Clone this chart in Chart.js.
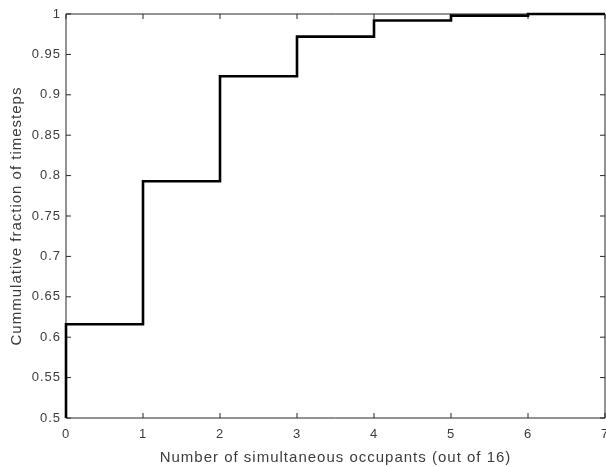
<!DOCTYPE html>
<html>
<head>
<meta charset="utf-8">
<script src="https://cdn.jsdelivr.net/npm/chart.js@4/dist/chart.umd.min.js"></script>
<style>
  html, body { margin: 0; padding: 0; background: #ffffff; }
  #wrap { width: 606px; height: 467px; }
</style>
</head>
<body>
<div id="wrap"><canvas id="cdf" width="606" height="467"></canvas></div>
<script>
// Empirical CDF of simultaneous occupancy (stairs: each value holds until the next x)
const occupants = [0, 0, 1, 2, 3, 4, 5, 6, 7];
const cumulativeFraction = [0, 0.616, 0.793, 0.923, 0.972, 0.992, 0.998, 1.0, 1.0];
const xTickValues = [0, 1, 2, 3, 4, 5, 6, 7];
const yTickValues = [0.5, 0.55, 0.6, 0.65, 0.7, 0.75, 0.8, 0.85, 0.9, 0.95, 1];

const xTitle = 'Number of simultaneous occupants (out of 16)';
const yTitle = 'Cummulative fraction of timesteps';

const axisColor = '#262626';
const labelColor = '#3c3c3c';
const fontFamily = '"Liberation Sans", Arial, Helvetica, sans-serif';

// Slightly wider text tracking for all labels
const textTracking = {
  id: 'textTracking',
  beforeUpdate(chart) { chart.ctx.letterSpacing = '1px'; },
  beforeLayout(chart) { chart.ctx.letterSpacing = '1px'; },
  beforeDraw(chart) { chart.ctx.letterSpacing = '1px'; }
};

// Box around the axes with inward tick marks on all four sides
const boxAxes = {
  id: 'boxAxes',
  beforeDatasetsDraw(chart) {
    const { ctx, chartArea: a, scales: { x, y } } = chart;
    const len = 5;
    ctx.save();
    ctx.strokeStyle = axisColor;
    ctx.lineWidth = 1;
    ctx.beginPath();
    ctx.rect(a.left, a.top, a.right - a.left, a.bottom - a.top);
    xTickValues.forEach(v => {
      const px = x.getPixelForValue(v);
      ctx.moveTo(px, a.bottom); ctx.lineTo(px, a.bottom - len);
      ctx.moveTo(px, a.top); ctx.lineTo(px, a.top + len);
    });
    yTickValues.forEach(v => {
      const py = y.getPixelForValue(v);
      ctx.moveTo(a.left, py); ctx.lineTo(a.left + len, py);
      ctx.moveTo(a.right, py); ctx.lineTo(a.right - len, py);
    });
    ctx.stroke();
    ctx.restore();
  }
};

new Chart(document.getElementById('cdf'), {
  type: 'line',
  data: {
    datasets: [{
      data: occupants.map((v, i) => ({ x: v, y: cumulativeFraction[i] })),
      stepped: true,
      borderColor: '#000000',
      borderWidth: 2.6,
      pointRadius: 0,
      fill: false,
      clip: { left: 2, top: 2, right: 0, bottom: 0 }
    }]
  },
  options: {
    responsive: false,
    devicePixelRatio: 1,
    animation: false,
    layout: { padding: { top: 14, right: 1, bottom: 0, left: 0 } },
    plugins: { legend: { display: false }, tooltip: { enabled: false } },
    scales: {
      x: {
        type: 'linear',
        min: 0,
        max: 7,
        afterBuildTicks: s => { s.ticks = xTickValues.map(v => ({ value: v })); },
        afterFit: s => { s.height = 49; s.paddingLeft = 0; s.paddingRight = 0; },
        grid: { display: false, drawTicks: false },
        border: { display: false },
        ticks: {
          color: labelColor,
          font: { family: fontFamily, size: 13 },
          padding: 9,
          maxRotation: 0,
          autoSkip: false,
          callback: v => String(v)
        },
        title: {
          display: true,
          text: xTitle,
          color: labelColor,
          font: { family: fontFamily, size: 15 },
          padding: { top: 0, bottom: 0 }
        }
      },
      y: {
        type: 'linear',
        min: 0.5,
        max: 1,
        afterBuildTicks: s => { s.ticks = yTickValues.map(v => ({ value: v })); },
        afterFit: s => { s.width = 66; s.paddingTop = 0; s.paddingBottom = 0; },
        grid: { display: false, drawTicks: false },
        border: { display: false },
        ticks: {
          color: labelColor,
          font: { family: fontFamily, size: 13 },
          padding: 5,
          autoSkip: false,
          callback: v => String(Number(v.toFixed(2)))
        },
        title: {
          display: true,
          text: yTitle,
          color: labelColor,
          font: { family: fontFamily, size: 15 },
          padding: { top: 8, bottom: 0 }
        }
      }
    }
  },
  plugins: [textTracking, boxAxes]
});
</script>
</body>
</html>
